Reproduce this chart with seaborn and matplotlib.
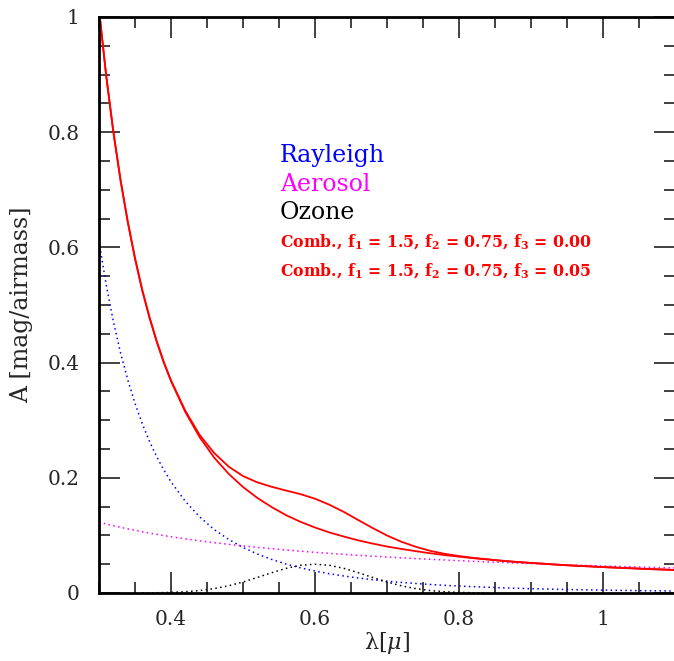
import matplotlib
matplotlib.use("Agg")
import matplotlib.pyplot as plt
import numpy as np
import pandas as pd
import seaborn as sns
from matplotlib.ticker import MultipleLocator, FuncFormatter


wavelength = [
    0.30, 0.31, 0.32, 0.33, 0.34, 0.35, 0.36, 0.37, 0.38, 0.39,
    0.40, 0.42, 0.44, 0.46, 0.48,
    0.50, 0.52, 0.54, 0.56, 0.58, 0.60, 0.62, 0.64, 0.66, 0.68,
    0.70, 0.72, 0.74, 0.76, 0.78, 0.80, 0.82, 0.84, 0.86, 0.88,
    0.90, 0.92, 0.94, 0.96, 0.98, 1.00, 1.02, 1.04, 1.06, 1.08, 1.10,
]

rayleigh = [
    0.610, 0.535, 0.471, 0.4166, 0.370, 0.3293, 0.294, 0.2636, 0.237, 0.2136,
    0.193, 0.159, 0.132, 0.110, 0.0931,
    0.0791, 0.0676, 0.0582, 0.0502, 0.0436, 0.0381, 0.0334, 0.0295, 0.0260, 0.0231,
    0.0205, 0.0184, 0.0165, 0.0148, 0.0133, 0.0121, 0.0109, 0.0100, 0.0090, 0.0082,
    0.0075, 0.0069, 0.0063, 0.0058, 0.0054, 0.0050, 0.0046, 0.0043, 0.0039, 0.0037, 0.0034,
]

aerosol = [
    0.1230, 0.1198, 0.1168, 0.1140, 0.1113, 0.1088, 0.1063, 0.1040, 0.1018, 0.0997,
    0.0977, 0.0940, 0.0905, 0.0874, 0.0845,
    0.0817, 0.0792, 0.0769, 0.0747, 0.0726, 0.0706, 0.0688, 0.0671, 0.0655, 0.0639,
    0.0624, 0.0611, 0.0597, 0.0585, 0.0573, 0.0561, 0.0550, 0.0540, 0.0530, 0.0520,
    0.0511, 0.0502, 0.0493, 0.0485, 0.0477, 0.0469, 0.0462, 0.0455, 0.0448, 0.0441, 0.0435,
]

nan = np.nan
ozone = [
    nan, nan, nan, nan, nan, nan, 0.0002, 0.0003, 0.0005, 0.0007,
    0.0011, 0.0022, 0.0042, 0.0076, 0.0125,
    0.0191, 0.0270, 0.0353, 0.0428, 0.0481, 0.0500, 0.0481, 0.0428, 0.0353, 0.0270,
    0.0191, 0.0125, 0.0076, 0.0042, 0.0022, 0.0011, 0.0005, 0.0002, nan, nan,
    nan, nan, nan, nan, nan, nan, nan, nan, nan, nan, nan,
]

comb_f3_000 = [
    1.013, 0.898, 0.800, 0.716, 0.644, 0.581, 0.526, 0.479, 0.437, 0.400,
    0.368, 0.314, 0.270, 0.235, 0.207,
    0.184, 0.165, 0.149, 0.135, 0.1235, 0.1137, 0.1051, 0.0980, 0.0914, 0.0858,
    0.0807, 0.0765, 0.0726, 0.0690, 0.0658, 0.0631, 0.0604, 0.0582, 0.0559, 0.0539,
    0.0522, 0.0506, 0.0489, 0.0475, 0.0463, 0.0450, 0.0439, 0.0429, 0.0417, 0.0409, 0.0399,
]

comb_f3_005 = [
    1.013, 0.898, 0.800, 0.716, 0.644, 0.581, 0.526, 0.479, 0.4375, 0.401,
    0.369, 0.316, 0.274, 0.243, 0.2195,
    0.203, 0.192, 0.1843, 0.1778, 0.1716, 0.1637, 0.1532, 0.1408, 0.1267, 0.1128,
    0.0998, 0.0890, 0.0802, 0.0732, 0.0680, 0.0642, 0.0609, 0.0584, 0.0559, 0.0539,
    0.0522, 0.0506, 0.0489, 0.0475, 0.0463, 0.0450, 0.0439, 0.0429, 0.0417, 0.0409, 0.0399,
]

labels = [
    ("Rayleigh", "blue"),
    ("Aerosol", "magenta"),
    ("Ozone", "black"),
]
comb_labels = [
    r"Comb., f$_{\bf 1}$ = 1.5, f$_{\bf 2}$ = 0.75, f$_{\bf 3}$ = 0.00",
    r"Comb., f$_{\bf 1}$ = 1.5, f$_{\bf 2}$ = 0.75, f$_{\bf 3}$ = 0.05",
]


def main():
    sns.set_style("ticks")
    plt.rcParams["font.family"] = ["DejaVu Serif"]
    plt.rcParams["mathtext.fontset"] = "dejavuserif"

    df = pd.DataFrame(
        {
            "wl": wavelength,
            "rayleigh": rayleigh,
            "aerosol": aerosol,
            "ozone": ozone,
            "c0": comb_f3_000,
            "c5": comb_f3_005,
        }
    )

    fig = plt.figure(figsize=(6.74, 6.61), dpi=100)
    ax = fig.add_axes([99 / 674, 1 - 593 / 661, 576 / 674, 576 / 661])

    dots = (0, (1, 2.2))
    sns.lineplot(data=df, x="wl", y="rayleigh", ax=ax, color="blue", lw=1.1, linestyle=dots)
    sns.lineplot(data=df, x="wl", y="aerosol", ax=ax, color="magenta", lw=1.1, linestyle=dots)
    sns.lineplot(data=df.dropna(subset=["ozone"]), x="wl", y="ozone", ax=ax, color="black", lw=1.1, linestyle=dots)
    sns.lineplot(data=df, x="wl", y="c0", ax=ax, color="red", lw=1.3)
    sns.lineplot(data=df, x="wl", y="c5", ax=ax, color="red", lw=1.3)

    ax.set_xlim(0.3, 1.1)
    ax.set_ylim(0, 1)
    ax.xaxis.set_major_locator(MultipleLocator(0.2))
    ax.xaxis.set_minor_locator(MultipleLocator(0.05))
    ax.yaxis.set_major_locator(MultipleLocator(0.2))
    ax.yaxis.set_minor_locator(MultipleLocator(0.05))
    fmt = FuncFormatter(lambda v, p: "0" if abs(v) < 1e-9 else ("1" if abs(v - 1) < 1e-9 else f"{v:.1f}"))
    ax.xaxis.set_major_formatter(fmt)
    ax.yaxis.set_major_formatter(fmt)
    ax.tick_params(which="both", direction="in", top=True, right=True, color="#333333", width=1.3, labelsize=14.5)
    ax.tick_params(which="major", length=15)
    ax.tick_params(which="minor", length=8)
    ax.tick_params(axis="x", which="major", pad=12)
    ax.tick_params(axis="y", which="major", pad=14)
    for s in ax.spines.values():
        s.set_linewidth(2)
        s.set_color("black")

    ax.set_xlabel(r"λ[$\mu$]", fontsize=16, labelpad=1)
    ax.set_ylabel("A [mag/airmass]", fontsize=17, labelpad=10)

    y0 = 0.760
    for i, (txt, col) in enumerate(labels):
        ax.text(0.551, y0 - i * 0.050, txt, color=col, fontsize=17, va="center", ha="left")
    for i, txt in enumerate(comb_labels):
        ax.text(0.551, 0.609 - i * 0.051, txt, color="red", fontsize=11.3, fontweight="bold",
                va="center", ha="left")

    fig.savefig("out.png", dpi=100)
    plt.close(fig)


if __name__ == "__main__":
    main()
